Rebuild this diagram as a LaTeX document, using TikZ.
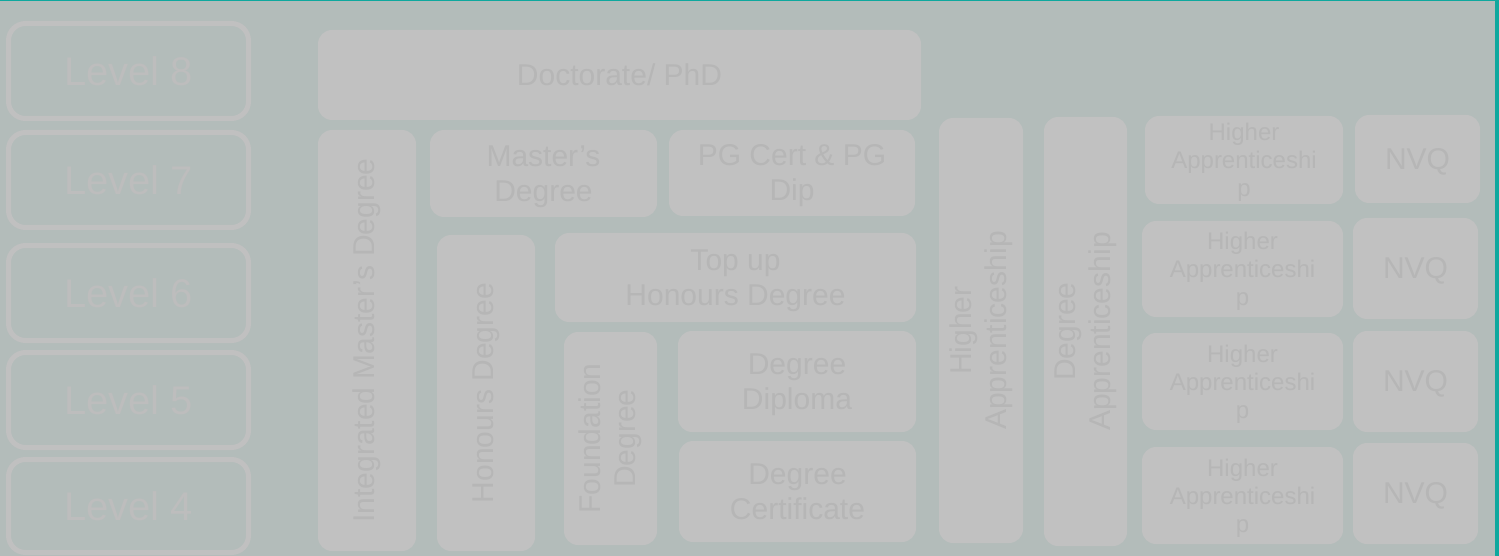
\documentclass[tikz,border=0pt]{standalone}
\usepackage{fontspec}
\setmainfont{Liberation Sans}
\definecolor{bgc}{HTML}{B3BCBA}
\definecolor{boxfill}{HTML}{C1C1C1}
\definecolor{boxtext}{HTML}{B6B6B6}
\definecolor{lvltext}{HTML}{BDBDBD}
\definecolor{lvlline}{HTML}{C0C0C0}
\definecolor{edgeteal}{HTML}{0FA89E}
\begin{document}
\begin{tikzpicture}[x=1pt,y=-1pt,
  blk/.style={fill=boxfill, draw=none, rounded corners=14pt, anchor=north west,
    inner sep=0pt, outer sep=0pt, text=boxtext, font=\fontsize{30}{35}\selectfont,
    align=center, text depth=0pt},
  hab/.style={blk, font=\fontsize{24}{28}\selectfont},
  vtxt/.style={rotate=90, inner sep=0pt, text=boxtext, font=\fontsize{30}{35}\selectfont, align=center},
  lvl/.style={draw=lvlline, line width=5pt, rounded corners=17pt, anchor=north west,
    minimum width=240pt, minimum height=95pt, inner sep=0pt, outer sep=0pt, text=lvltext,
    font=\fontsize{40}{48}\selectfont}]
\useasboundingbox (0,0) rectangle (1499,556);
\fill[bgc] (0,0) rectangle (1499,556);
\fill[edgeteal] (0,0) rectangle (1499,1.5);
\fill[edgeteal] (1495,0) rectangle (1499,556);

% level boxes
\node[lvl] (l8) at (8.5,23.5) {Level 8};
\node[lvl] (l7) at (8.5,132.5) {Level 7};
\node[lvl] (l6) at (8.5,245.5) {Level 6};
\node[lvl] (l5) at (8.5,352.5) {Level 5};
\node[lvl, minimum height=93pt] (l4) at (8.5,459.5) {Level 4};

% university column
\node[blk, minimum width=603pt, minimum height=90pt] (doc) at (318,30) {Doctorate/ PhD};
\node[blk, minimum width=98pt, minimum height=421pt] (imd) at (318,130) {};
\node[vtxt] (imdt) at (imd.center) {Integrated Master’s Degree};
\node[blk, minimum width=227pt, minimum height=87pt] (md) at (430,130) {Master’s\\Degree};
\node[blk, minimum width=246pt, minimum height=86pt] (pg) at (669,130) {PG Cert \& PG\\Dip};
\node[blk, minimum width=98pt, minimum height=316pt] (hd) at (437,235) {};
\node[vtxt] (hdt) at (hd.center) {Honours Degree};
\node[blk, minimum width=361pt, minimum height=89pt] (tu) at (555,233) {Top up\\Honours Degree};
\node[blk, minimum width=93pt, minimum height=213pt] (fd) at (564,332) {};
\node[vtxt] (fdt) at (fd.center) {Foundation\\Degree};
\node[blk, minimum width=238pt, minimum height=101pt] (dd) at (678,331) {Degree\\Diploma};
\node[blk, minimum width=237pt, minimum height=101pt] (dc) at (679,441) {Degree\\Certificate};

% apprenticeship columns
\node[blk, minimum width=84pt, minimum height=425pt] (hav) at (939,118) {};
\node[vtxt] (havt) at (hav.center) {Higher\\Apprenticeship};
\node[blk, minimum width=83pt, minimum height=429pt] (dav) at (1044,117) {};
\node[vtxt] (davt) at (dav.center) {Degree\\Apprenticeship};

\node[hab, minimum width=198pt, minimum height=88pt] (ha1) at (1145,116) {Higher\\Apprenticeshi\\p};
\node[blk, minimum width=125pt, minimum height=88pt] (nvq1) at (1355,115) {NVQ};
\node[hab, minimum width=201pt, minimum height=96pt] (ha2) at (1142,221) {Higher\\Apprenticeshi\\p};
\node[blk, minimum width=125pt, minimum height=101pt] (nvq2) at (1353,218) {NVQ};
\node[hab, minimum width=201pt, minimum height=97pt] (ha3) at (1142,333) {Higher\\Apprenticeshi\\p};
\node[blk, minimum width=125pt, minimum height=101pt] (nvq3) at (1353,331) {NVQ};
\node[hab, minimum width=201pt, minimum height=97pt] (ha4) at (1142,447) {Higher\\Apprenticeshi\\p};
\node[blk, minimum width=125pt, minimum height=101pt] (nvq4) at (1353,443) {NVQ};
\end{tikzpicture}
\end{document}
